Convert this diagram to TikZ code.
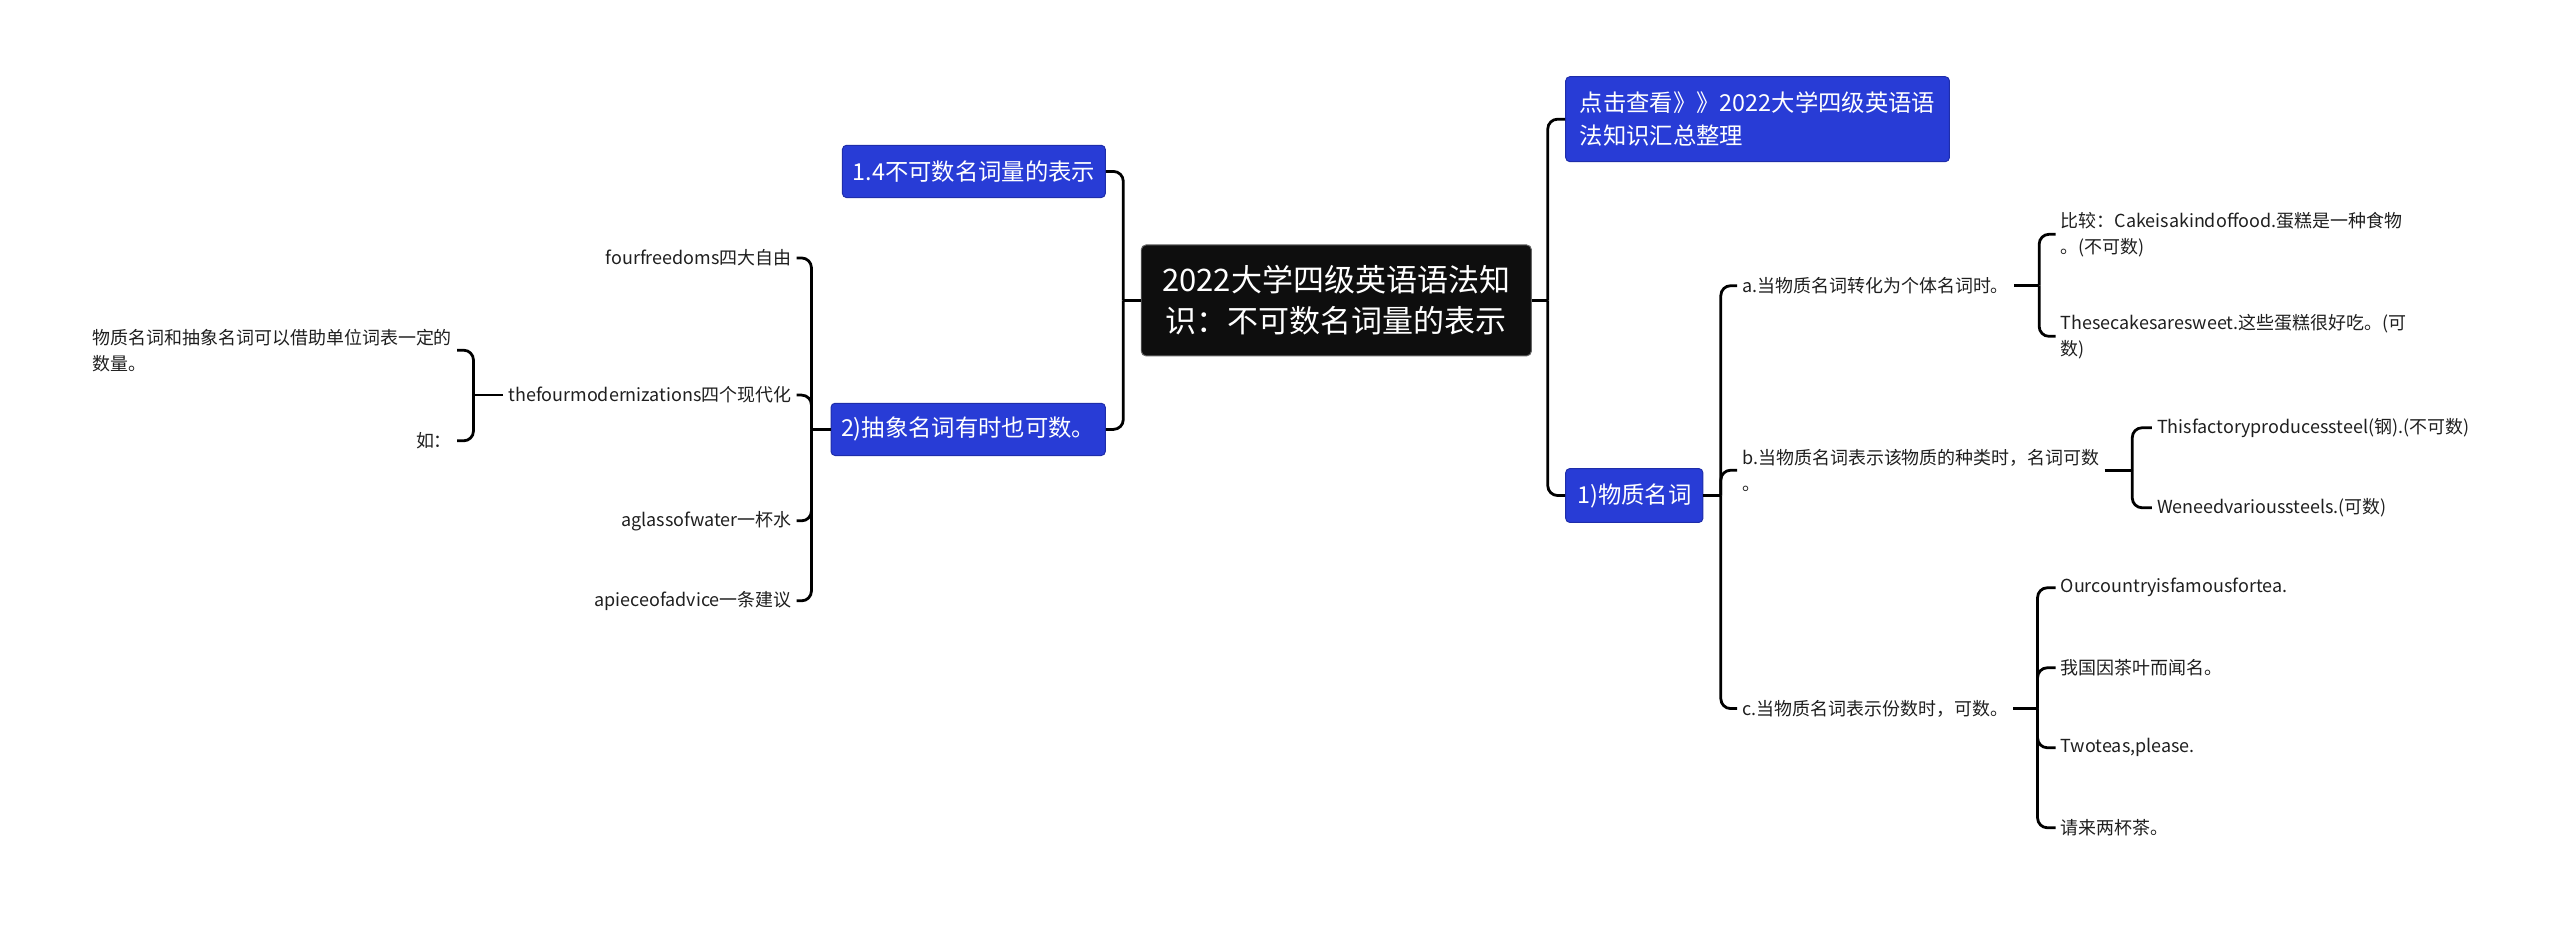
\documentclass[tikz,border=0pt]{standalone}
\usepackage{fontspec}
\setmainfont{Noto Sans CJK SC}
\definecolor{boxblue}{RGB}{40,60,214}
\definecolor{boxborder}{RGB}{30,45,170}
\definecolor{rootblack}{RGB}{14,14,14}
\tikzset{
 box/.style={draw=boxborder, fill=boxblue, rounded corners=2.5pt, text=white, font=\fontsize{14.3}{20}\selectfont, inner sep=0pt, line width=0.6pt},
 rootbox/.style={draw=black!60, fill=rootblack, rounded corners=3pt, text=white, font=\fontsize{19}{25}\selectfont, align=center, inner sep=0pt, line width=0.6pt},
 leaf/.style={font=\fontsize{11}{16}\selectfont, inner xsep=3pt, inner ysep=1pt, text=black!88},
 conn/.style={line width=1.7pt, rounded corners=6pt, draw=black},
}
\begin{document}
\begin{tikzpicture}[x=1pt,y=-1pt]
\useasboundingbox (0,0) rectangle (1568,567);
% root
\node[rootbox, minimum width=239pt, minimum height=68pt] (root) at (818.5,184) {2022大学四级英语语法知\\识：不可数名词量的表示};
% left main boxes
\node[box, minimum width=161pt, minimum height=32pt] (b14) at (596.5,105) {1.4不可数名词量的表示};
\node[box, minimum width=168pt, minimum height=32pt] (b2) at (593,263) {2)抽象名词有时也可数。};
% right main boxes
\node[box, minimum width=235pt, minimum height=52pt, align=left] (r1) at (1076.5,73) {点击查看》》2022大学四级英语语\\法知识汇总整理};
\node[box, minimum width=84pt, minimum height=33pt] (r2) at (1001,303.5) {1)物质名词};
% left leaves
\node[leaf, anchor=east] (t1) at (488,158) {fourfreedoms四大自由};
\node[leaf, anchor=east] (t2) at (488,242) {thefourmodernizations四个现代化};
\node[leaf, anchor=east] (t3) at (488,319) {aglassofwater一杯水};
\node[leaf, anchor=east] (t4) at (488,368) {apieceofadvice一条建议};
\node[leaf, anchor=east, align=left] (t5) at (280,214.5) {物质名词和抽象名词可以借助单位词表一定的\\数量。};
\node[leaf, anchor=east] (t6) at (280,270) {如：};
% right leaves
\node[leaf, anchor=west] (a) at (1064,175) {a.当物质名词转化为个体名词时。};
\node[leaf, anchor=west, align=left] (b) at (1064,288) {b.当物质名词表示该物质的种类时，名词可数\\。};
\node[leaf, anchor=west] (c) at (1064,434) {c.当物质名词表示份数时，可数。};
\node[leaf, anchor=west, align=left] (a1) at (1259,143.5) {比较：Cakeisakindoffood.蛋糕是一种食物\\。(不可数)};
\node[leaf, anchor=west, align=left] (a2) at (1259,206) {Thesecakesaresweet.这些蛋糕很好吃。(可\\数)};
\node[leaf, anchor=west] (b1) at (1318,262) {Thisfactoryproducessteel(钢).(不可数)};
\node[leaf, anchor=west] (b2x) at (1318,311) {Weneedvarioussteels.(可数)};
\node[leaf, anchor=west] (c1) at (1259,360) {Ourcountryisfamousfortea.};
\node[leaf, anchor=west] (c2) at (1259,409) {我国因茶叶而闻名。};
\node[leaf, anchor=west] (c3) at (1259,458) {Twoteas,please.};
\node[leaf, anchor=west] (c4) at (1259,507) {请来两杯茶。};
% junction coordinates
\coordinate (jL) at (688,184);
\coordinate (jR) at (948,184);
\coordinate (j2) at (497,263);
\coordinate (jt2) at (290,242);
\coordinate (jr2) at (1054,303.5);
\coordinate (ja) at (1249,175);
\coordinate (jb) at (1306,288);
\coordinate (jc) at (1248,434);
% connectors
\draw[conn] (root.west) -- (jL);
\draw[conn] (jL) |- (b14.east);
\draw[conn] (jL) |- (b2.east);
\draw[conn] (root.east) -- (jR);
\draw[conn] (jR) |- (r1.west);
\draw[conn] (jR) |- (r2.west);
\draw[conn] (b2.west) -- (j2);
\draw[conn] (j2) |- (t1.east);
\draw[conn] (j2) |- (t2.east);
\draw[conn] (j2) |- (t3.east);
\draw[conn] (j2) |- (t4.east);
\draw[conn] (t2.west) -- (jt2);
\draw[conn] (jt2) |- (t5.east);
\draw[conn] (jt2) |- (t6.east);
\draw[conn] (r2.east) -- (jr2);
\draw[conn] (jr2) |- (a.west);
\draw[conn] (jr2) |- (b.west);
\draw[conn] (jr2) |- (c.west);
\draw[conn] (a.east) -- (ja);
\draw[conn] (ja) |- (a1.west);
\draw[conn] (ja) |- (a2.west);
\draw[conn] (b.east) -- (jb);
\draw[conn] (jb) |- (b1.west);
\draw[conn] (jb) |- (b2x.west);
\draw[conn] (c.east) -- (jc);
\draw[conn] (jc) |- (c1.west);
\draw[conn] (jc) |- (c2.west);
\draw[conn] (jc) |- (c3.west);
\draw[conn] (jc) |- (c4.west);
\end{tikzpicture}
\end{document}
